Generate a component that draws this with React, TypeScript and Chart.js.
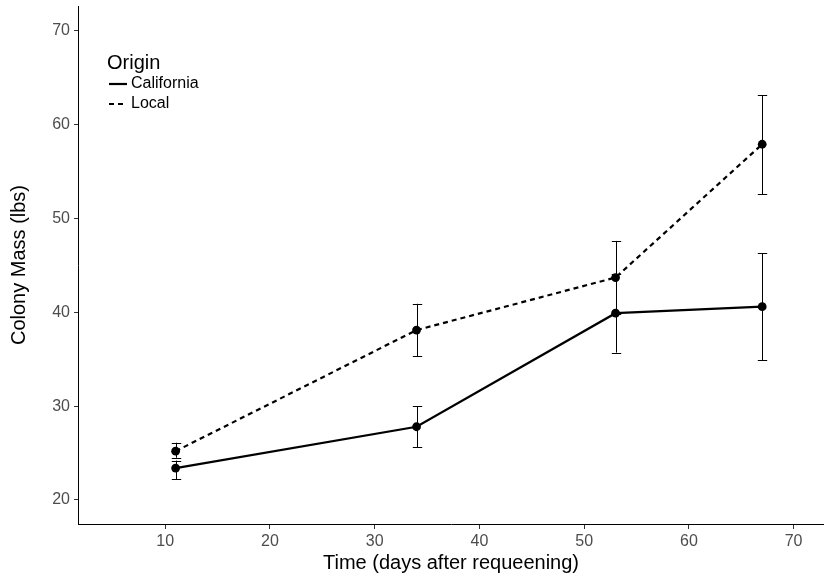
import React, { useEffect, useRef } from "react";
import { Chart, registerables } from "chart.js";

Chart.register(...registerables);

const days = [11, 34, 53, 67];
const californiaMass = [23.4, 27.8, 39.9, 40.6];
const californiaLow = [22.2, 25.6, 35.7, 34.9];
const californiaHigh = [24.2, 30.0, 44.1, 46.3];
const localMass = [25.2, 38.1, 43.7, 57.9];
const localLow = [24.5, 35.3, 39.8, 52.6];
const localHigh = [26.1, 40.9, 47.6, 63.1];
const xTicks = [10, 20, 30, 40, 50, 60, 70];
const yTicks = [20, 30, 40, 50, 60, 70];
const seriesNames = ["California", "Local"];
const legendTitle = "Origin";
const xTitle = "Time (days after requeening)";
const yTitle = "Colony Mass (lbs)";

const FONT = "'Liberation Sans', Arial, Helvetica, sans-serif";

const errorBarPlugin = {
  id: "errorBars",
  beforeDatasetsDraw(chart: any) {
    const { ctx, scales } = chart;
    const xs = scales.x;
    const ys = scales.y;
    const sets = [
      { lo: californiaLow, hi: californiaHigh },
      { lo: localLow, hi: localHigh },
    ];
    ctx.save();
    ctx.strokeStyle = "#000000";
    ctx.lineWidth = 1;
    sets.forEach((s) => {
      days.forEach((d, i) => {
        const px = Math.round(xs.getPixelForValue(d)) + 0.5;
        const y1 = ys.getPixelForValue(s.lo[i]);
        const y2 = ys.getPixelForValue(s.hi[i]);
        const cap = 4.7;
        ctx.beginPath();
        ctx.moveTo(px, y1);
        ctx.lineTo(px, y2);
        ctx.moveTo(px - cap, Math.round(y1) + 0.5);
        ctx.lineTo(px + cap, Math.round(y1) + 0.5);
        ctx.moveTo(px - cap, Math.round(y2) + 0.5);
        ctx.lineTo(px + cap, Math.round(y2) + 0.5);
        ctx.stroke();
      });
    });
    ctx.restore();
  },
};

const legendPlugin = {
  id: "originLegend",
  afterDraw(chart: any) {
    const { ctx, chartArea } = chart;
    const x0 = chartArea.left + 29;
    const y0 = chartArea.top + 57;
    ctx.save();
    ctx.fillStyle = "#000000";
    ctx.textAlign = "left";
    ctx.textBaseline = "middle";
    ctx.font = `20px ${FONT}`;
    ctx.fillText(legendTitle, x0, y0);
    ctx.font = `16px ${FONT}`;
    chart.data.datasets.forEach((ds: any, i: number) => {
      const y = y0 + 21 + i * 20;
      ctx.save();
      ctx.strokeStyle = ds.borderColor;
      ctx.lineWidth = ds.borderWidth;
      ctx.setLineDash(ds.borderDash || []);
      ctx.beginPath();
      ctx.moveTo(x0 + 2, y);
      ctx.lineTo(x0 + 20, y);
      ctx.stroke();
      ctx.restore();
      ctx.fillText(ds.label, x0 + 24, y);
    });
    ctx.restore();
  },
};

const noPad = (s: any) => {
  s.paddingTop = 0;
  s.paddingBottom = 0;
  s.paddingLeft = 0;
  s.paddingRight = 0;
};

export default function App() {
  const ref = useRef<HTMLCanvasElement | null>(null);

  useEffect(() => {
    if (!ref.current) return;
    Chart.defaults.font.family = FONT;
    const mk = (vals: number[]) => days.map((d, i) => ({ x: d, y: vals[i] }));
    const chart = new Chart(ref.current, {
      type: "line",
      data: {
        datasets: [
          {
            label: seriesNames[0],
            data: mk(californiaMass),
            borderColor: "#000000",
            backgroundColor: "#000000",
            borderWidth: 2.2,
            pointRadius: 4.4,
            pointBorderWidth: 0,
            pointBackgroundColor: "#000000",
            tension: 0,
          },
          {
            label: seriesNames[1],
            data: mk(localMass),
            borderColor: "#000000",
            backgroundColor: "#000000",
            borderWidth: 2.2,
            borderDash: [5, 4],
            pointRadius: 4.4,
            pointBorderWidth: 0,
            pointBackgroundColor: "#000000",
            tension: 0,
          },
        ],
      },
      options: {
        responsive: false,
        animation: false,
        layout: { autoPadding: false, padding: { top: 6, right: 0, left: 0, bottom: 0 } },
        plugins: {
          legend: { display: false },
          tooltip: { enabled: false },
        },
        scales: {
          x: {
            type: "linear",
            min: 1.68,
            max: 72.9,
            afterBuildTicks: (s: any) => {
              s.ticks = xTicks.map((v) => ({ value: v }));
            },
            afterFit: (s: any) => {
              s.height = 51;
              noPad(s);
            },
            grid: {
              display: true,
              drawOnChartArea: false,
              drawTicks: true,
              tickLength: 5,
              color: "#333333",
            },
            border: { display: true, color: "#000000", width: 1 },
            ticks: {
              color: "#4d4d4d",
              font: { size: 16 },
              padding: 3,
              maxRotation: 0,
              autoSkip: false,
            },
            title: {
              display: true,
              text: xTitle,
              color: "#000000",
              font: { size: 20 },
              padding: { top: 0, bottom: 0 },
            },
          },
          y: {
            type: "linear",
            min: 17.44,
            max: 72.63,
            afterBuildTicks: (s: any) => {
              s.ticks = yTicks.map((v) => ({ value: v }));
            },
            afterFit: (s: any) => {
              s.width = 78;
              noPad(s);
            },
            grid: {
              display: true,
              drawOnChartArea: false,
              drawTicks: true,
              tickLength: 4,
              color: "#333333",
            },
            border: { display: true, color: "#000000", width: 1 },
            ticks: {
              color: "#4d4d4d",
              font: { size: 16 },
              padding: 4,
              autoSkip: false,
            },
            title: {
              display: true,
              text: yTitle,
              color: "#000000",
              font: { size: 20 },
              padding: { top: 7, bottom: 0 },
            },
          },
        },
      },
      plugins: [errorBarPlugin, legendPlugin],
    });
    return () => chart.destroy();
  }, []);

  return (
    <div style={{ position: "fixed", left: 0, top: 0, width: 824, height: 575, background: "#ffffff" }}>
      <canvas ref={ref} width={824} height={575} style={{ display: "block" }} />
    </div>
  );
}
